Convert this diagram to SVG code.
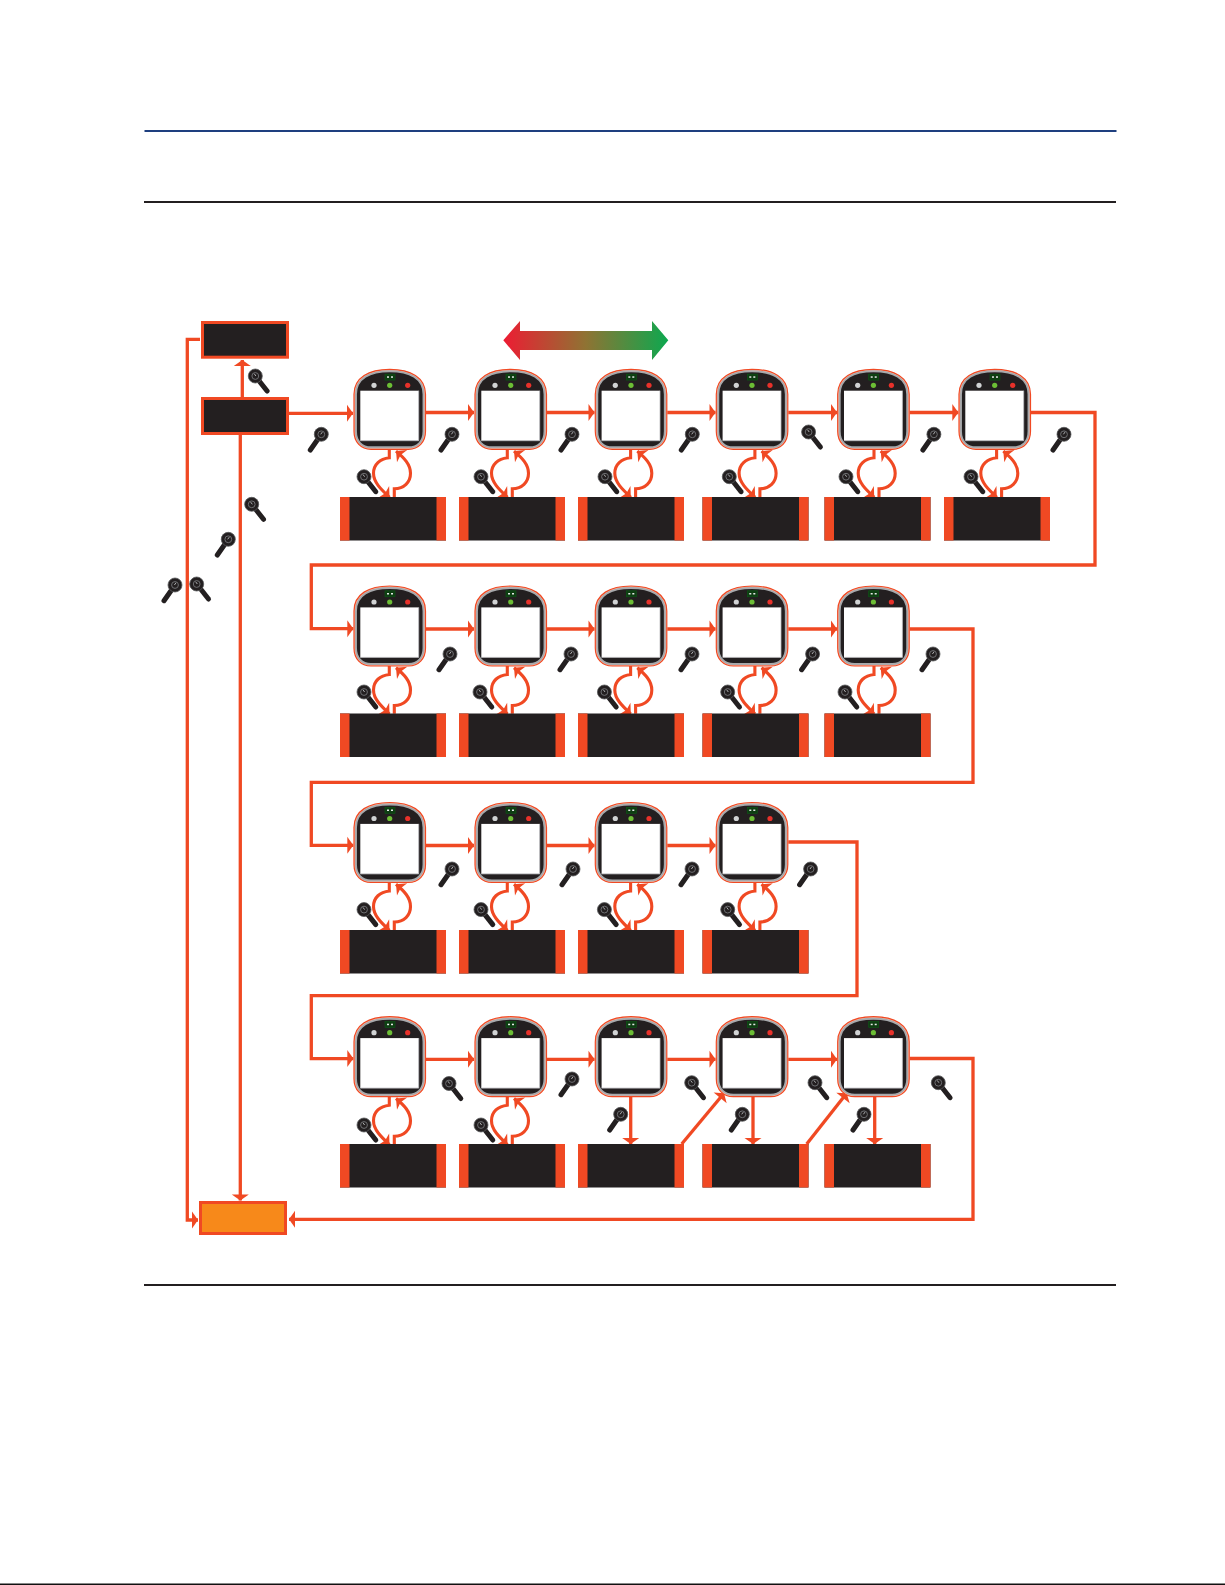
<svg xmlns="http://www.w3.org/2000/svg" xmlns:xlink="http://www.w3.org/1999/xlink" width="1225" height="1585" viewBox="0 0 1225 1585">
<style>
.wire{fill:none;stroke:#F04923;stroke-width:3.3;marker-end:url(#ah)}
.loop{fill:none;stroke:#F04923;stroke-width:3.1;marker-end:url(#ah2)}
.box{fill:#231F20;stroke:#F04923;stroke-width:3}
.side{fill:#F04923}
.panel{fill:#231F20}
</style>
<defs>
<marker id="ah" markerUnits="userSpaceOnUse" markerWidth="10" markerHeight="20" viewBox="-8 -10 10 20" refX="0" refY="0" orient="auto">
<path d="M0,0L-6,-8.5L-6,8.5Z" fill="#F04923"/>
</marker>
<marker id="ah2" markerUnits="userSpaceOnUse" markerWidth="12" markerHeight="20" viewBox="-10 -10 12 20" refX="0" refY="0" orient="auto">
<path d="M0,0L-8,-8L-6,0L-8,8Z" fill="#F04923"/>
</marker>
<linearGradient id="grad" x1="0" x2="1" y1="0" y2="0">
<stop offset="0" stop-color="#ED1C33"/>
<stop offset="0.5" stop-color="#8F7333"/>
<stop offset="1" stop-color="#0DA84F"/>
</linearGradient>
<g id="device">
<path d="M0,25C0,8 15,0 35.75,0C56.5,0 71.5,8 71.5,25V62C71.5,73 64.5,80 54.5,80H17C7,80 0,73 0,62Z" fill="#F8B5A0" stroke="#F04923" stroke-width="1.2"/>
<path d="M2,25C2,9 16,2 35.75,2C55.5,2 69.5,9 69.5,25V62C69.5,72 63.5,78 54.5,78H17C8,78 2,72 2,62Z" fill="#231F20" stroke="#A7A9AC" stroke-width="1.9"/>
<rect x="6.3" y="21.4" width="58.4" height="50" fill="#fff"/>
<path d="M6.3,71.4H64.7V21.4" fill="none" stroke="#BCBDC0" stroke-width="0.8"/>
<rect x="31" y="4.8" width="10" height="6" fill="#0E3D12" stroke="#0B5A14" stroke-width="0.6"/>
<rect x="33" y="7" width="2" height="1.5" fill="#E6E7E8"/>
<rect x="37" y="7" width="2" height="1.5" fill="#E6E7E8"/>
<circle cx="20" cy="16" r="2.6" fill="#D1D3D4"/>
<circle cx="35.7" cy="16" r="2.6" fill="#6CBE35"/>
<circle cx="53.7" cy="16" r="2.6" fill="#E8312A"/>
</g>
<g id="panel">
<rect x="0" y="0" width="106" height="43.5" class="panel"/>
<rect x="0" y="0" width="9.5" height="43.5" class="side"/>
<rect x="96.5" y="0" width="9.5" height="43.5" class="side"/>
</g>
<g id="loops">
<path class="loop" d="M35.3,80V88.5C26,89.5 19.5,95 19.5,104C19.5,113 27,120 35.5,128"/>
<path class="loop" d="M40.3,127.8V119.5C50,119.5 56.5,113 56.5,104C56.5,95 50,88.5 42,81.8"/>
</g>
<g id="keyA">
<path d="M0,0L11.8,15" stroke="#231F20" stroke-width="5" stroke-linecap="round"/>
<circle r="7" fill="#231F20" stroke="#58595B" stroke-width="0.8"/>
<circle r="3.4" fill="none" stroke="#6D6E71" stroke-width="1"/>
<path d="M-1,-2.2L0.6,0" fill="none" stroke="#BCBEC0" stroke-width="0.9"/>
</g>
<g id="keyB">
<path d="M0,0L-11,15.7" stroke="#231F20" stroke-width="5" stroke-linecap="round"/>
<circle r="7" fill="#231F20" stroke="#58595B" stroke-width="0.8"/>
<circle r="3.4" fill="none" stroke="#6D6E71" stroke-width="1"/>
<path d="M1,-2.2L-0.6,0" fill="none" stroke="#BCBEC0" stroke-width="0.9"/>
</g>
</defs>
<rect width="1225" height="1585" fill="#fff"/>
<g id="rules">
<rect x="144.5" y="130" width="972" height="2" fill="#1E3F7F"/>
<rect x="144" y="201" width="972" height="2" fill="#231F20"/>
<rect x="144" y="1284" width="972" height="2" fill="#231F20"/>
<rect x="0" y="1583.5" width="1225" height="1.5" fill="#111"/>
</g>
<g id="scale-arrow">
<path d="M503.3,340.3L520,321V331H652V321L668.3,340.3L652,360V350H520V360Z" fill="url(#grad)"/>
</g>
<g id="connectors">
<path class="wire" d="M242.3,397V360"/>
<path class="wire" d="M289,413.3H353"/>
<path class="wire" d="M200,339.3H187.3V1220H198"/>
<path class="wire" d="M240.3,435V1200.5"/>
<path class="wire" d="M426,412.5H474"/>
<path class="wire" d="M547,412.5H594.5"/>
<path class="wire" d="M667.3,412.5H715.5"/>
<path class="wire" d="M788.3,412.5H837"/>
<path class="wire" d="M909.7,412.5H958.3"/>
<path class="wire" d="M1031,412.5H1095V565H311.3V628.7H353.3"/>
<path class="wire" d="M426,629H474"/>
<path class="wire" d="M547,629H594.5"/>
<path class="wire" d="M667.3,629H715.5"/>
<path class="wire" d="M788.3,629H837"/>
<path class="wire" d="M909.7,629H973V782.3H311.3V845.3H353.3"/>
<path class="wire" d="M426,845.5H474"/>
<path class="wire" d="M547,845.5H594.5"/>
<path class="wire" d="M667.3,845.5H715.5"/>
<path class="wire" d="M788.3,842H857V995.6H311.3V1058.6H353.3"/>
<path class="wire" d="M426,1059.3H474"/>
<path class="wire" d="M547,1059.3H594.5"/>
<path class="wire" d="M667.3,1059.3H715.5"/>
<path class="wire" d="M788.3,1059.3H837"/>
<path class="wire" d="M909.7,1058.5H973V1219.3H289"/>
<path class="wire" d="M630.7,1097V1144"/>
<path class="wire" d="M753,1097V1144"/>
<path class="wire" d="M874.7,1097V1144"/>
<path class="wire" d="M681.7,1144L724,1093.3"/>
<path class="wire" d="M806.7,1144L846.7,1093.3"/>
<use xlink:href="#loops" href="#loops" x="354" y="369.3"/>
<use xlink:href="#loops" href="#loops" x="472" y="369.3"/>
<use xlink:href="#loops" href="#loops" x="595.3" y="369.3"/>
<use xlink:href="#loops" href="#loops" x="719.6" y="369.3"/>
<use xlink:href="#loops" href="#loops" x="838.7" y="369.3"/>
<use xlink:href="#loops" href="#loops" x="961.3" y="369.3"/>
<use xlink:href="#loops" href="#loops" x="354" y="586"/>
<use xlink:href="#loops" href="#loops" x="472" y="586"/>
<use xlink:href="#loops" href="#loops" x="595.3" y="586"/>
<use xlink:href="#loops" href="#loops" x="719.6" y="586"/>
<use xlink:href="#loops" href="#loops" x="838.7" y="586"/>
<use xlink:href="#loops" href="#loops" x="354" y="802.5"/>
<use xlink:href="#loops" href="#loops" x="472" y="802.5"/>
<use xlink:href="#loops" href="#loops" x="595.3" y="802.5"/>
<use xlink:href="#loops" href="#loops" x="719.6" y="802.5"/>
<use xlink:href="#loops" href="#loops" x="354" y="1016.7"/>
<use xlink:href="#loops" href="#loops" x="472" y="1016.7"/>
</g>
<g id="box-top"><rect class="box" x="202.5" y="322.5" width="85" height="34.7"/></g>
<g id="box-start"><rect class="box" x="202.5" y="398.5" width="85" height="35"/></g>
<g id="box-end"><rect x="200.5" y="1202.5" width="85" height="31" fill="#F7891A" stroke="#F04923" stroke-width="3"/></g>
<g id="d11"><use href="#device" x="354" y="369.3"/></g>
<g id="d12"><use href="#device" x="475" y="369.3"/></g>
<g id="d13"><use href="#device" x="595.3" y="369.3"/></g>
<g id="d14"><use href="#device" x="716.3" y="369.3"/></g>
<g id="d15"><use href="#device" x="837.7" y="369.3"/></g>
<g id="d16"><use href="#device" x="959" y="369.3"/></g>
<g id="d21"><use href="#device" x="354" y="586"/></g>
<g id="d22"><use href="#device" x="475" y="586"/></g>
<g id="d23"><use href="#device" x="595.3" y="586"/></g>
<g id="d24"><use href="#device" x="716.3" y="586"/></g>
<g id="d25"><use href="#device" x="837.7" y="586"/></g>
<g id="d31"><use href="#device" x="354" y="802.5"/></g>
<g id="d32"><use href="#device" x="475" y="802.5"/></g>
<g id="d33"><use href="#device" x="595.3" y="802.5"/></g>
<g id="d34"><use href="#device" x="716.3" y="802.5"/></g>
<g id="d41"><use href="#device" x="354" y="1016.7"/></g>
<g id="d42"><use href="#device" x="475" y="1016.7"/></g>
<g id="d43"><use href="#device" x="595.3" y="1016.7"/></g>
<g id="d44"><use href="#device" x="716.3" y="1016.7"/></g>
<g id="d45"><use href="#device" x="837.7" y="1016.7"/></g>
<g id="p11"><use href="#panel" x="340" y="497"/></g>
<g id="p12"><use href="#panel" x="459" y="497"/></g>
<g id="p13"><use href="#panel" x="578" y="497"/></g>
<g id="p14"><use href="#panel" x="702.5" y="497"/></g>
<g id="p15"><use href="#panel" x="824.5" y="497"/></g>
<g id="p16"><use href="#panel" x="944" y="497"/></g>
<g id="p21"><use href="#panel" x="340" y="713.5"/></g>
<g id="p22"><use href="#panel" x="459" y="713.5"/></g>
<g id="p23"><use href="#panel" x="578" y="713.5"/></g>
<g id="p24"><use href="#panel" x="702.5" y="713.5"/></g>
<g id="p25"><use href="#panel" x="824.5" y="713.5"/></g>
<g id="p31"><use href="#panel" x="340" y="930"/></g>
<g id="p32"><use href="#panel" x="459" y="930"/></g>
<g id="p33"><use href="#panel" x="578" y="930"/></g>
<g id="p34"><use href="#panel" x="702.5" y="930"/></g>
<g id="p41"><use href="#panel" x="340" y="1144"/></g>
<g id="p42"><use href="#panel" x="459" y="1144"/></g>
<g id="p43"><use href="#panel" x="578" y="1144"/></g>
<g id="p44"><use href="#panel" x="702.5" y="1144"/></g>
<g id="p45"><use href="#panel" x="824.5" y="1144"/></g>
<g id="keys">
<use href="#keyA" x="255.3" y="376"/>
<use href="#keyA" x="251.7" y="504.3"/>
<use href="#keyA" x="196.7" y="584"/>
<use href="#keyB" x="228.3" y="539.3"/>
<use href="#keyB" x="175" y="585"/>
<use href="#keyB" x="321.3" y="434.3"/>
<use href="#keyB" x="452" y="434.3"/>
<use href="#keyB" x="572" y="434.3"/>
<use href="#keyB" x="692.3" y="434.3"/>
<use href="#keyA" x="808.6" y="432"/>
<use href="#keyB" x="933.9" y="434.3"/>
<use href="#keyB" x="1064" y="434.3"/>
<use href="#keyA" x="364" y="476.7"/>
<use href="#keyA" x="481" y="476.7"/>
<use href="#keyA" x="605" y="476.7"/>
<use href="#keyA" x="729.3" y="476.7"/>
<use href="#keyA" x="846" y="476.7"/>
<use href="#keyA" x="971" y="476.7"/>
<use href="#keyB" x="450" y="654"/>
<use href="#keyB" x="571" y="654"/>
<use href="#keyB" x="692" y="654"/>
<use href="#keyB" x="812.6" y="654"/>
<use href="#keyB" x="933" y="654"/>
<use href="#keyA" x="364" y="692"/>
<use href="#keyA" x="480" y="692"/>
<use href="#keyA" x="604.4" y="692"/>
<use href="#keyA" x="727.7" y="692"/>
<use href="#keyA" x="845" y="692"/>
<use href="#keyB" x="452" y="869"/>
<use href="#keyB" x="573" y="869"/>
<use href="#keyB" x="692" y="869"/>
<use href="#keyB" x="810.6" y="869"/>
<use href="#keyA" x="364" y="909.6"/>
<use href="#keyA" x="481" y="909.6"/>
<use href="#keyA" x="604.4" y="909.6"/>
<use href="#keyA" x="727.7" y="909.6"/>
<use href="#keyA" x="449" y="1083.5"/>
<use href="#keyB" x="572" y="1079"/>
<use href="#keyA" x="691.7" y="1082.7"/>
<use href="#keyA" x="815" y="1082.7"/>
<use href="#keyA" x="938.3" y="1082.7"/>
<use href="#keyA" x="364" y="1125"/>
<use href="#keyA" x="481" y="1125"/>
<use href="#keyB" x="620.7" y="1114.3"/>
<use href="#keyB" x="742.3" y="1114.3"/>
<use href="#keyB" x="864" y="1114.3"/>
</g>
</svg>
